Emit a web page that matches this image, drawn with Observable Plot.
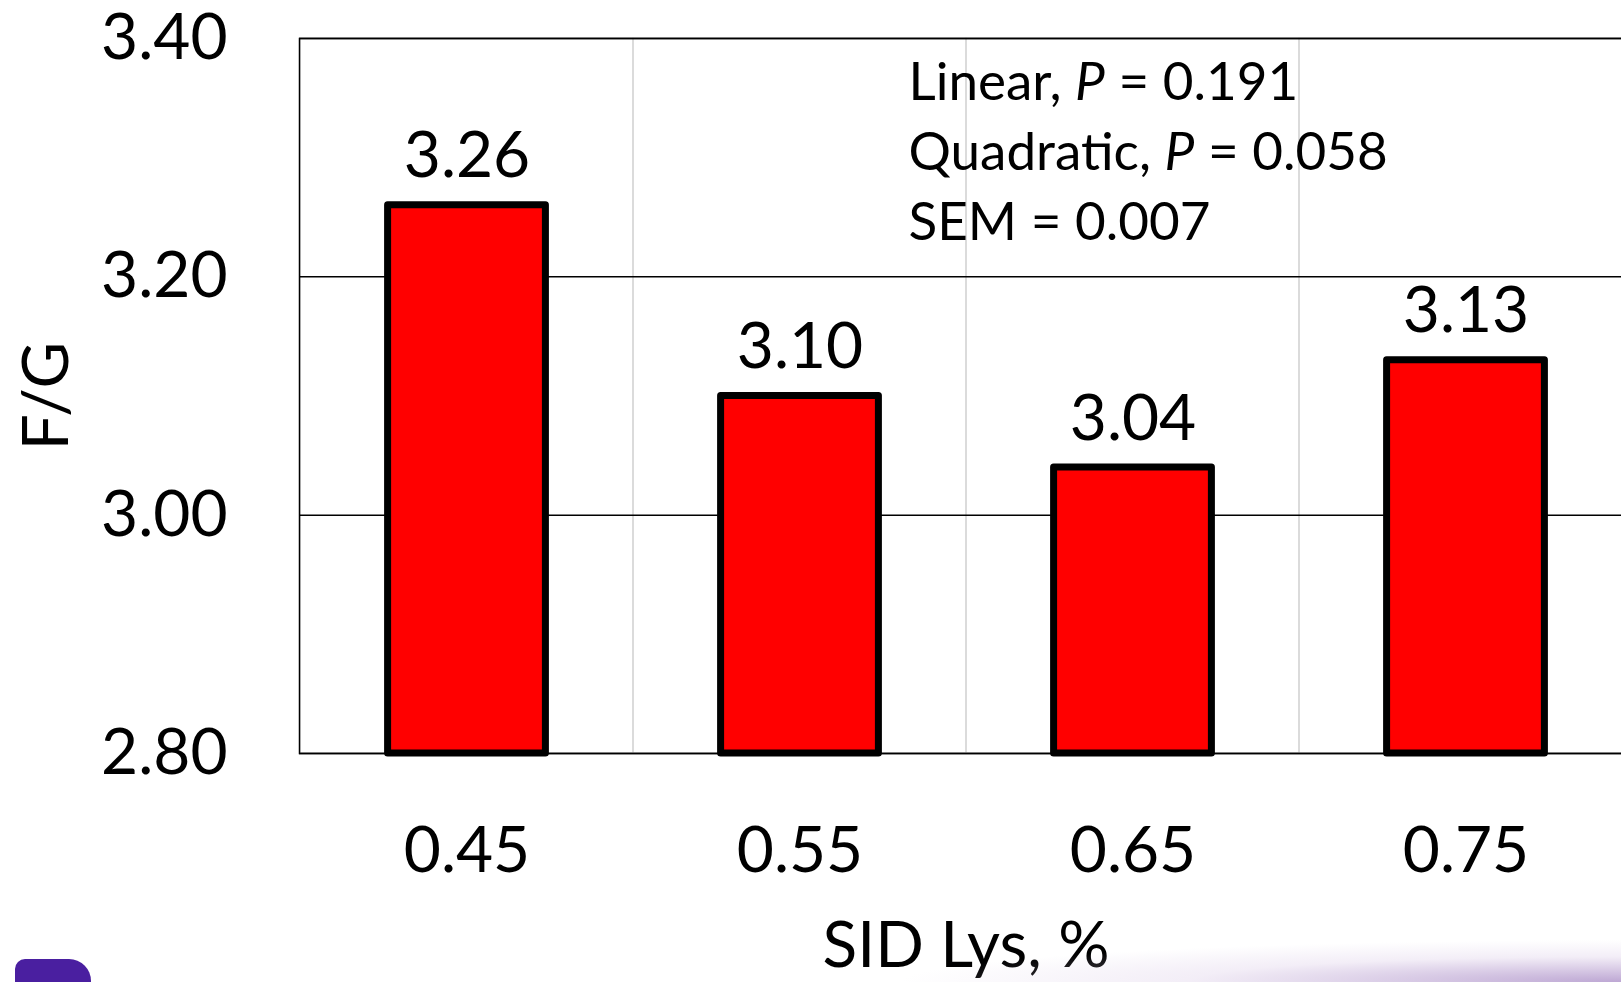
<!DOCTYPE html>
<html>
<head>
<meta charset="utf-8">
<script src="https://cdn.jsdelivr.net/npm/d3@7"></script>
<script src="https://cdn.jsdelivr.net/npm/@observablehq/plot@0.6"></script>
<style>
  html, body { margin: 0; padding: 0; background: #ffffff; overflow: hidden; }
  #page { position: relative; width: 1621px; height: 982px; overflow: hidden; }
  #chart svg { display: block; max-width: none !important; }
  /* slide decoration along the bottom edge */
  .swoosh {
    position: absolute; left: 900px; top: 920px; width: 721px; height: 62px; pointer-events: none;
    background: radial-gradient(ellipse 720px 42px at 100% 100%, rgba(178,152,204,0.85), rgba(220,205,232,0.35) 60%, rgba(255,255,255,0) 100%);
  }
  .badge {
    position: absolute; left: 15px; top: 959px; width: 76px; height: 30px; pointer-events: none;
    background: #4a1fa0; border-radius: 10px 22px 0 0;
  }
</style>
</head>
<body>
<div id="page">
  <div id="chart"></div>
  <div class="swoosh"></div>
  <div class="badge"></div>
</div>
<script>
// SID lysine level (%) and feed-to-gain ratio per treatment
const lysLevels = ["0.45", "0.55", "0.65", "0.75"];
const feedGain = [3.26, 3.10, 3.04, 3.13];

// value axis
const yDomain = [2.8, 3.4];
const yTicks = [2.8, 3.0, 3.2, 3.4];

// contrast statistics shown in the corner
const contrastNames = ["Linear", "Quadratic"];
const contrastP = ["0.191", "0.058"];
const semValue = "0.007";

const data = lysLevels.map((lys, i) => ({lys, fg: feedGain[i]}));
const statText = [
  ...contrastNames.map((n, i) => `${n}, P = ${contrastP[i]}`),
  `SEM = ${semValue}`
].join("\n");

const font = "Lato, 'Open Sans', sans-serif";

const chart = Plot.plot({
  width: 1640,
  height: 982,
  marginLeft: 299,
  marginRight: 8,
  marginTop: 38,
  marginBottom: 229,
  style: {fontFamily: font, fontSize: "64px", color: "#000", background: "transparent", maxWidth: "none"},
  x: {domain: lysLevels, padding: 0},
  y: {domain: yDomain},
  marks: [
    // light vertical separators between treatment groups
    Plot.barY(lysLevels, {x: d => d, y1: () => yDomain[0], y2: () => yDomain[1], fill: "none", stroke: "#d9d9d9", strokeWidth: 1.5}),
    Plot.ruleY(yTicks, {stroke: "#000", strokeWidth: 1.5}),
    Plot.frame({stroke: "#000", strokeWidth: 1.5}),
    Plot.axisX({
      fontSize: 64, tickSize: 0, tickPadding: 73,
      label: "SID Lys, %", labelAnchor: "center", labelArrow: "none", labelOffset: 213
    }),
    Plot.axisY({
      fontSize: 64, tickSize: 0, tickPadding: 72, ticks: yTicks, tickFormat: d3.format(".2f"),
      label: "F/G", labelAnchor: "center", labelArrow: "none", labelOffset: 277
    }),
    Plot.barY(data, {
      x: "lys", y1: () => yDomain[0], y2: "fg",
      fill: "#ff0000", stroke: "#000", strokeWidth: 7, strokeLinejoin: "round",
      insetLeft: 87.6, insetRight: 87.6
    }),
    Plot.text(data, {
      x: "lys", y: "fg", text: d => d.fg.toFixed(2),
      lineAnchor: "bottom", dy: -28, fontSize: 64, fill: "#000"
    }),
    Plot.text([statText], {
      frameAnchor: "top-left", textAnchor: "start", lineAnchor: "top",
      dx: 609, dy: 12, fontSize: 53, lineHeight: 1.32, fill: "#000"
    })
  ]
});

// set the P of each contrast in italics
d3.select(chart).selectAll("tspan, text").each(function() {
  const el = this;
  if (el.childElementCount > 0) return;
  const s = el.textContent;
  const k = s.indexOf(", P = ");
  if (k < 0) return;
  el.textContent = "";
  const sel = d3.select(el);
  sel.append("tspan").text(s.slice(0, k + 2));
  sel.append("tspan").attr("font-style", "italic").text("P");
  sel.append("tspan").text(s.slice(k + 3));
});

document.getElementById("chart").append(chart);
</script>
</body>
</html>
